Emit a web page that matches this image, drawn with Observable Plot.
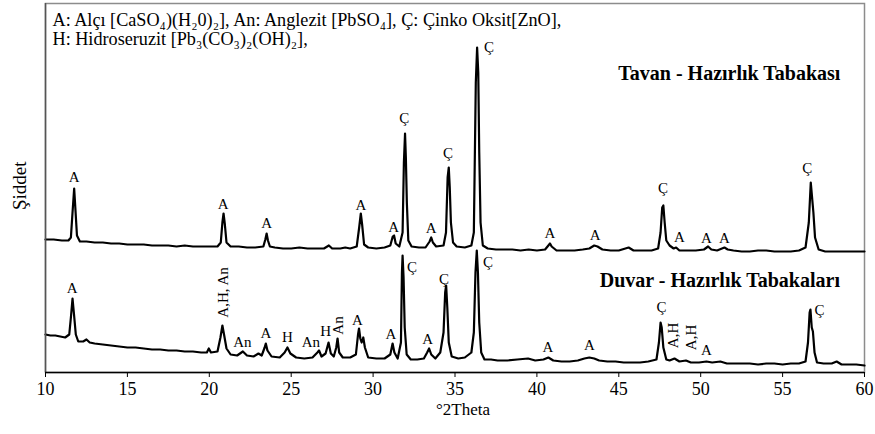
<!DOCTYPE html>
<html>
<head>
<meta charset="utf-8">
<script src="https://cdn.jsdelivr.net/npm/d3@7"></script>
<script src="https://cdn.jsdelivr.net/npm/@observablehq/plot@0.6"></script>
<style>
  body { margin: 0; background: #fff; }
  #chart svg { display: block; }
</style>
</head>
<body>
<div id="chart"></div>
<script>
// ---- Data: 2θ (degrees) and intensity (a.u., traces already offset) ----
const tavanTheta = [10.0,10.5,11.0,11.4,11.55,11.65,11.75,11.82,11.92,12.1,12.5,13,13.5,14,14.5,15,15.5,16,16.5,17,17.5,18,18.5,19,19.5,20,20.5,20.7,20.8,20.87,20.95,21.05,21.3,21.8,22.3,22.8,23.3,23.42,23.5,23.58,23.7,24,24.5,25,25.5,26,26.5,27,27.3,27.5,28,28.3,28.6,29.0,29.15,29.25,29.33,29.45,29.7,30.2,30.7,31.05,31.2,31.28,31.38,31.6,31.8,31.88,31.95,32.0,32.06,32.15,32.35,32.8,33.2,33.45,33.55,33.65,33.85,34.3,34.45,34.55,34.62,34.68,34.75,34.88,35.1,35.6,36.0,36.15,36.27,36.35,36.42,36.48,36.56,36.7,37.0,37.5,38,38.5,39,39.5,40,40.5,40.7,40.8,40.9,41.2,41.8,42.3,42.8,43.2,43.5,43.7,44.0,44.5,45,45.6,45.9,46.5,47,47.4,47.55,47.65,47.72,47.8,47.9,48.1,48.35,48.5,48.7,49.2,49.7,50.2,50.45,50.65,51,51.3,51.45,51.65,52,52.5,53,53.5,54,54.5,55,55.5,56,56.4,56.6,56.72,56.8,56.88,56.98,57.2,57.6,58,58.5,59,59.5,60];
const tavanIntensity = [133,133,132,132,135,160,184,165,137,131,131,130,130,129,129,128,128,128,127,127,127,126,127,126,126,126,126,130,150,159,148,130,126,126,125,125,126,133,139,132,126,125,124,124,125,124,124,124,127,124,124,125,124,126,145,159,148,128,125,124,125,127,136,137,129,126,140,210,239,215,170,132,126,125,125,131,135,130,126,127,140,195,205,185,150,130,126,125,127,140,290,325,300,220,150,127,124,123,123,123,122,123,122,123,127,129,126,122,122,122,123,124,127,126,123,122,122,125,122,122,122,124,140,165,167,150,132,127,124,125,122,122,122,123,126,123,122,124,125,123,122,121,121,122,122,121,121,121,122,125,150,190,175,160,135,123,121,121,121,121,121,121];

const duvarTheta = [10.0,10.3,10.6,10.9,11.2,11.45,11.55,11.65,11.73,11.85,12.0,12.3,12.5,12.7,13,13.5,14,14.5,15,15.5,16,16.5,17,17.5,18,18.5,19,19.5,19.85,19.97,20.1,20.5,20.68,20.8,20.9,21.05,21.3,21.7,22.05,22.3,22.7,23.0,23.2,23.38,23.45,23.55,23.8,24.3,24.6,24.77,24.95,25.3,25.8,26.3,26.6,26.7,26.85,27.1,27.28,27.42,27.6,27.75,27.83,27.93,28.15,28.6,28.95,29.08,29.14,29.22,29.3,29.4,29.5,29.7,30.2,30.7,31.05,31.19,31.3,31.5,31.7,31.76,31.8,31.86,31.93,32.05,32.3,32.7,33.1,33.3,33.42,33.55,33.8,34.1,34.3,34.4,34.46,34.53,34.62,34.8,35.2,35.6,36.0,36.15,36.25,36.33,36.4,36.48,36.6,36.8,37.2,37.6,38.2,38.8,39.46,39.9,40.4,40.7,41.0,41.5,42,42.5,42.9,43.2,43.5,43.8,44.3,44.8,45.3,45.8,46.3,46.8,47.3,47.45,47.55,47.62,47.72,47.9,48.1,48.4,48.7,49.1,49.4,49.9,50.35,50.7,51.2,51.6,52,52.5,53,53.5,54,54.5,55,55.5,56,56.4,56.55,56.65,56.7,56.78,56.85,56.95,57.1,57.5,58,58.3,58.6,59,59.5,60];
const duvarIntensity = [38,37,37,36,35,38,55,74,60,38,31,31,33,30,29,28,27,26,25,25,24,23,23,22,22,21,21,20,20,24,20,21,35,47,38,24,18,17,21,17,16,19,17,25,29,22,16,15,20,25,19,15,14,15,20,22,16,19,30,19,16,25,34,20,15,15,18,38,44,34,30,35,25,15,14,14,18,29,20,14,30,100,117,95,45,18,13,13,14,20,24,18,14,20,40,80,87,65,30,16,14,15,20,40,100,122,100,50,20,13,13,12,12,13,14,12,13,15,12,11,11,12,14,15,14,12,11,11,10,10,10,11,13,30,50,45,25,13,12,14,11,12,10,10,11,10,11,9,9,9,9,8,9,9,8,9,9,11,30,60,63,45,41,20,10,9,9,11,8,8,8,7];

// Peak labels (label centre: 2θ, intensity)
const tavanLabelText  = ["A","A","A","A","A","Ç","A","Ç","Ç","A","A","Ç","A","A","A","Ç"];
const tavanLabelTheta = [11.75,20.85,23.5,29.25,31.25,31.9,33.55,34.57,37.08,40.8,43.55,47.7,48.7,50.35,51.45,56.5];
const tavanLabelInt   = [195,168,149,167,145,254,144,219,325,139,137,184,135,134,134,204];

const duvarLabelText  = ["A","An","A","H","An","H","A","A","Ç","A","Ç","Ç","A","A","Ç","A","Ç"];
const duvarLabelTheta = [11.63,22.02,23.45,24.77,26.2,27.1,29.05,31.09,32.37,33.33,34.33,37.02,40.67,43.2,47.6,50.35,57.25];
const duvarLabelInt   = [84,30,39,35,30,41,52,38,105,33,93,110,25,27,65,22,62];

// Rotated (vertical) peak labels on the Duvar trace
const duvarVLabelText  = ["A,H, An","An","A,H","A,H"];
const duvarVLabelTheta = [20.82,27.89,48.3,49.43];
const duvarVLabelInt   = [80,47,37,35];

const seriesNames = ["Tavan - Hazırlık Tabakası", "Duvar - Hazırlık Tabakaları"];
const seriesNameTheta = [51.75, 51.17];
const seriesNameInt = [299, 92];

const legendLines = [
  "A: Alçı [CaSO₄)(H₂0)₂], An: Anglezit [PbSO₄], Ç: Çinko Oksit[ZnO],",
  "H: Hidroseruzit [Pb₃(CO₃)₂(OH)₂],"
];
const xTicks = [10,15,20,25,30,35,40,45,50,55,60];
const xLabel = "°2Theta";
const yLabel = "Şiddet";

// ---- Build tables ----
const tavan = tavanTheta.map((t, i) => ({theta: t, intensity: tavanIntensity[i]}));
const duvar = duvarTheta.map((t, i) => ({theta: t, intensity: duvarIntensity[i]}));
const tavanLabels = tavanLabelText.map((s, i) => ({text: s, theta: tavanLabelTheta[i], intensity: tavanLabelInt[i]}));
const duvarLabels = duvarLabelText.map((s, i) => ({text: s, theta: duvarLabelTheta[i], intensity: duvarLabelInt[i]}));
const duvarVLabels = duvarVLabelText.map((s, i) => ({text: s, theta: duvarVLabelTheta[i], intensity: duvarVLabelInt[i]}));
const names = seriesNames.map((s, i) => ({text: s, theta: seriesNameTheta[i], intensity: seriesNameInt[i]}));

const serif = "'Liberation Serif', 'Times New Roman', 'DejaVu Serif', serif";

const chart = Plot.plot({
  width: 875,
  height: 434,
  marginTop: 3,
  marginBottom: 62,
  marginLeft: 45,
  marginRight: 11,
  x: {domain: [10, 60]},
  y: {domain: [0, 369], axis: null},
  style: {fontFamily: serif, background: "#fff", color: "#000"},
  marks: [
    Plot.frame({stroke: "#8c8c8c", strokeWidth: 1.5}),
    Plot.line(tavan, {x: "theta", y: "intensity", stroke: "#000", strokeWidth: 2.2, strokeLinejoin: "round"}),
    Plot.line(duvar, {x: "theta", y: "intensity", stroke: "#000", strokeWidth: 2.2, strokeLinejoin: "round"}),
    Plot.ruleX([10], {stroke: "#555", strokeWidth: 1.5}),
    Plot.ruleY([0], {stroke: "#000", strokeWidth: 1.5}),
    Plot.axisX({ticks: xTicks, tickSize: 5, tickPadding: 5, fontSize: 18, fontFamily: serif, tickFormat: d => String(d), label: null}),
    Plot.text([xLabel], {frameAnchor: "bottom", dy: 42, dx: 8, fontSize: 17, fontFamily: serif, fill: "#000"}),
    Plot.text([yLabel], {frameAnchor: "left", dx: -26, dy: 22, rotate: -90, fontSize: 19, fontFamily: serif, fill: "#000"}),
    Plot.text(tavanLabels, {x: "theta", y: "intensity", text: "text", fontSize: 15, fontFamily: serif, fill: "#000"}),
    Plot.text(duvarLabels, {x: "theta", y: "intensity", text: "text", fontSize: 15, fontFamily: serif, fill: "#000"}),
    Plot.text(duvarVLabels, {x: "theta", y: "intensity", text: "text", rotate: -90, fontSize: 15, fontFamily: serif, fill: "#000"}),
    Plot.text(names, {x: "theta", y: "intensity", text: "text", fontSize: 20, fontWeight: "bold", fontFamily: serif, fill: "#000"}),
    Plot.text([legendLines[0]], {frameAnchor: "top-left", dx: 7, dy: 10, textAnchor: "start", fontSize: 18.2, fontFamily: serif, fill: "#000"}),
    Plot.text([legendLines[1]], {frameAnchor: "top-left", dx: 7, dy: 29, textAnchor: "start", fontSize: 18.2, fontFamily: serif, fill: "#000"})
  ]
});
document.getElementById("chart").appendChild(chart);
</script>
</body>
</html>
